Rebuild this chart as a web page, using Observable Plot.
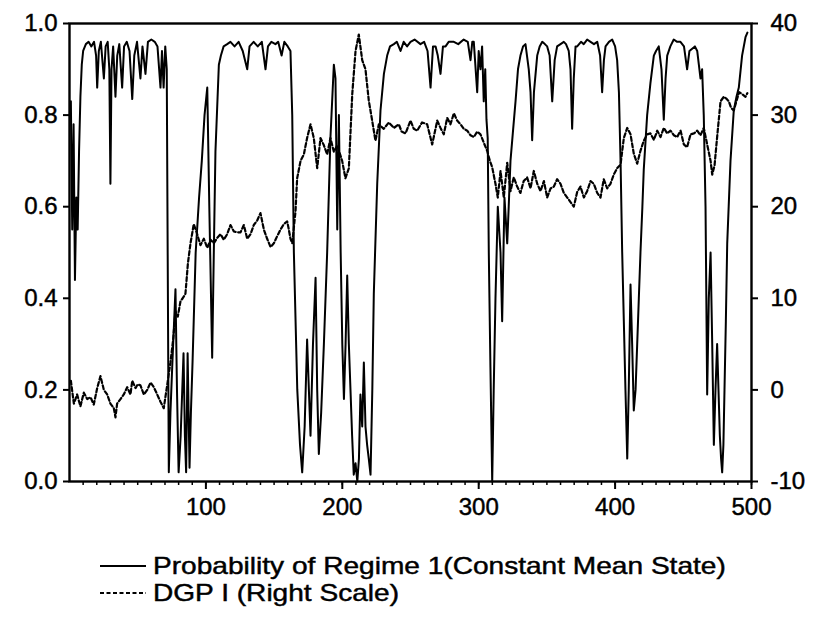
<!DOCTYPE html>
<html>
<head>
<meta charset="utf-8">
<script src="https://cdn.jsdelivr.net/npm/d3@7"></script>
<script src="https://cdn.jsdelivr.net/npm/@observablehq/plot@0.6"></script>
<style>
  body { margin: 0; background: #fff; width: 814px; height: 618px; overflow: hidden; font-family: "Liberation Sans", Arial, sans-serif; }
  #wrap { position: relative; width: 814px; height: 618px; }
  #chart svg text { stroke: #000; stroke-width: 0.45px; }
  #legend { position: absolute; left: 100px; top: 552px; font-size: 24px; color: #000; line-height: 27px; }
  .row { display: flex; align-items: center; white-space: nowrap; }
  .row svg { margin-right: 7px; }
  .row span { display: inline-block; transform: scaleX(1.17); transform-origin: left center; -webkit-text-stroke: 0.45px #000; }
</style>
</head>
<body>
<div id="wrap"><div id="chart"></div><div id="legend"></div></div>
<script>
// ---- data ----
const seriesNames = ["Probability of Regime 1(Constant Mean State)", "DGP I (Right Scale)"];
const leftTicks = [0, 0.2, 0.4, 0.6, 0.8, 1.0];
const rightTicks = [-10, 0, 10, 20, 30, 40];
const xTicks = [100, 200, 300, 400, 500];
const xDomain = [0, 500];

const probX = [1,2,3,4,5,6,7,8,9,10,12,14,16,18,19.5,20.3,21.5,23,25.2,26.5,28,29.2,30,30.8,32,33.7,35,36.5,38.6,40,42,44,46,47.5,49.5,52,53.5,55.7,57.5,60,62.5,64.5,66.7,67.8,69,70.2,71.3,72.8,74,75.3,77.7,78.8,80,81.5,83.6,84.6,85.5,86.6,88,89,90.2,92.5,95,97,99,101,102.5,104.6,105.8,107,109.5,111,113,115.6,118,121,124,127,130.3,132,135,138,141,143.7,145.5,148,151,153,155.5,157.5,160,162,163.3,164.5,167,169,170.6,172.4,174.2,175.5,176.7,178.5,180.4,181.6,182.8,184.5,186.5,188.9,191.3,193.8,195,196.3,197.5,198.8,200,201.2,202.4,203.6,204.8,206,207.2,208.4,209.7,211,212.2,213.3,214.6,215.8,217,218.2,219.4,220.7,222,223.1,225.6,228,230.5,232.9,235,237.8,240,242.7,245,247.5,250,253,257.3,260,262.5,264.7,266.5,268.4,270,272,273.8,275.7,278,281.8,285,289,292,294,295.3,296.4,298.9,300,301.3,302.5,303.7,304.8,305.7,306.6,307.4,308.6,309.9,311,312.3,314,316,317.2,318.9,320.9,322,323.3,325,327,328.8,330.6,332.5,334.3,336.7,338,339.2,340.5,342.9,344.7,346.6,348.5,350.2,352,353.9,355.7,357.5,360,362.4,364,366,367.3,368.5,369.7,371,372.2,375,377,379.5,382,384.5,386.9,389,390.5,391.8,393,395.5,397.9,400,401.5,402.8,404,405.2,406.4,407.6,408.9,410,411.3,412.5,413.7,415,416.2,417.4,418.6,420,421,423.5,425.9,428.4,430,432,434,435.7,437,438.2,440.5,443,445.5,447.9,450.5,452.8,454.5,456.5,458.5,460.2,461.4,462.6,463.8,465,466.3,467.5,468.7,470,471.2,472.4,473.6,474.8,475.8,476.8,477.7,478.5,479.4,480.2,481.2,482.2,484.6,487,489,490.7,493.1,495.6,497];
const probY = [0.83,0.55,0.78,0.44,0.62,0.55,0.72,0.84,0.91,0.94,0.955,0.96,0.95,0.96,0.93,0.86,0.94,0.96,0.88,0.95,0.96,0.9,0.65,0.9,0.95,0.84,0.93,0.955,0.86,0.95,0.96,0.94,0.835,0.93,0.96,0.88,0.95,0.89,0.96,0.965,0.96,0.95,0.86,0.94,0.86,0.95,0.9,0.02,0.15,0.25,0.42,0.2,0.02,0.1,0.28,0.1,0.02,0.28,0.03,0.15,0.26,0.5,0.62,0.7,0.8,0.86,0.6,0.27,0.5,0.72,0.91,0.93,0.95,0.955,0.96,0.95,0.96,0.94,0.9,0.95,0.96,0.95,0.96,0.9,0.95,0.96,0.955,0.96,0.93,0.96,0.95,0.94,0.8,0.5,0.2,0.08,0.02,0.12,0.31,0.2,0.1,0.3,0.445,0.2,0.06,0.15,0.3,0.5,0.75,0.91,0.88,0.55,0.8,0.5,0.3,0.18,0.3,0.45,0.3,0.2,0.1,0.015,0.04,0.0,0.05,0.19,0.12,0.26,0.12,0.08,0.05,0.015,0.2,0.41,0.65,0.81,0.89,0.93,0.95,0.955,0.96,0.94,0.96,0.95,0.96,0.965,0.955,0.96,0.94,0.86,0.95,0.95,0.93,0.89,0.95,0.95,0.96,0.96,0.955,0.965,0.96,0.92,0.96,0.96,0.85,0.94,0.9,0.95,0.83,0.9,0.79,0.75,0.5,0.25,0.0,0.2,0.4,0.6,0.5,0.35,0.62,0.52,0.6,0.7,0.76,0.83,0.9,0.93,0.95,0.955,0.9,0.85,0.745,0.85,0.93,0.95,0.96,0.955,0.95,0.93,0.83,0.92,0.95,0.955,0.96,0.955,0.94,0.9,0.77,0.88,0.95,0.95,0.96,0.955,0.965,0.96,0.955,0.96,0.93,0.85,0.92,0.95,0.96,0.965,0.95,0.92,0.85,0.7,0.5,0.35,0.2,0.05,0.2,0.43,0.3,0.155,0.2,0.3,0.4,0.5,0.6,0.68,0.8,0.87,0.93,0.94,0.95,0.9,0.79,0.88,0.93,0.95,0.965,0.96,0.96,0.95,0.9,0.94,0.945,0.95,0.94,0.91,0.88,0.9,0.8,0.6,0.19,0.4,0.5,0.3,0.08,0.2,0.3,0.2,0.1,0.05,0.02,0.08,0.2,0.35,0.52,0.7,0.81,0.84,0.86,0.93,0.97,0.98];

const dgpX = [1,3.2,5.6,8,10.5,13,15.4,17.8,20.3,22.7,25.2,27.6,30,32.5,33.7,34.9,37.4,39.8,42.3,44.7,46,48.4,50,52,54.5,57,59.4,61.8,64.3,66.7,69.1,71.6,74,76,77.7,79.4,81.4,83,85,86.8,88.7,91.1,93.6,96,98.5,101,103.4,105.8,108.3,110.7,113.1,115.6,118,120.5,122.9,125.4,127.8,130.3,132.7,135.1,137.6,140,142.5,144.9,147.4,149.8,152.3,154.7,157.1,159.6,160.8,162,163.3,165.7,166.9,169.4,171.8,174.2,176.7,179.1,181.6,184,186.5,188.9,191.3,193.8,196.3,199.9,202.3,204.8,207.3,209.7,212.1,214.6,217,219.4,221.9,224.3,226.8,230.4,234.1,237.8,241.4,243.5,246.4,250,252.4,254.9,258.5,262.2,265.9,269.6,272,274.4,276.9,279.3,281.8,284.2,286.7,289.1,291.6,294,296.4,298.9,301.3,303.7,306.2,308.2,309.9,312.3,314,316,318.4,320.9,323.3,325.7,328.2,330.6,333,335.5,338,340.4,342.9,345.3,347.8,350.2,352.7,355.1,357.5,360,362.4,364.9,367.3,369.7,372.2,374.6,377.1,379.5,382,384.4,386.9,389.3,391.7,394.2,396.6,399,401.5,404,406.4,408.9,411.3,413.7,416.2,418.6,421,423.5,425.9,428.4,430.9,433.3,435.7,438.2,440.6,443.1,445.5,448,450.4,452.8,455.3,457.8,460.2,462.6,465,467.5,470,471.2,472.9,474.8,477.3,479.7,481.5,483.4,485,487,489.5,491,493.1,495.6,497];
const dgpY = [1.0,-1.5,-0.5,-1.8,-0.3,-1.0,-0.8,-1.6,0.2,1.5,0.0,-0.5,-1.5,-2.0,-3.0,-1.5,-1.0,-0.5,0.3,-0.5,1.0,0.2,0.6,0.5,-0.5,0.0,0.8,0.3,-0.5,-1.3,-2.0,0.5,3.0,5.5,8.6,8.0,9.7,10.0,10.5,13.8,16.0,18.1,17.0,15.8,16.5,15.5,16.4,16.0,16.6,17.0,16.4,17.0,18.0,17.3,17.2,17.2,18.0,16.5,17.0,18.0,18.5,19.3,17.5,16.5,15.6,16.0,16.8,17.5,18.1,18.4,17.5,16.5,16.0,19.5,23.1,25.0,25.7,27.5,29.0,27.5,24.2,27.5,26.7,25.7,27.5,26.0,26.7,25.0,23.1,24.2,32.3,37.0,38.8,36.0,35.0,31.6,29.4,27.2,29.0,28.5,29.2,28.6,29.0,28.2,28.0,29.4,28.5,28.3,29.2,29.0,26.8,29.4,28.6,27.9,29.7,29.0,30.2,29.4,29.0,28.5,28.3,27.8,27.6,28.2,27.9,27.0,26.1,25.0,24.3,22.5,21.0,23.9,21.0,24.8,21.7,23.2,22.2,21.5,22.8,23.2,22.0,23.9,22.5,21.7,22.8,21.0,22.0,22.2,23.0,22.5,21.5,21.0,20.5,20.0,21.6,22.2,21.0,21.7,22.8,22.5,21.5,21.0,23.0,22.0,22.5,23.5,24.2,24.6,27.5,28.6,27.9,25.8,24.7,26.1,27.2,27.9,28.0,27.3,28.3,27.6,28.6,28.0,28.3,27.8,27.6,28.3,26.8,26.5,27.9,28.0,28.3,27.8,28.6,26.8,25.0,23.5,24.5,27.6,31.5,32.0,31.8,31.5,30.8,30.5,31.8,32.5,32.3,32.0,32.4];

// ---- build tables ----
const rMin = rightTicks[0], rMax = rightTicks[rightTicks.length - 1];
const toUnit = v => (v - rMin) / (rMax - rMin);
const fromUnit = u => u * (rMax - rMin) + rMin;
const probRows = probX.map((x, i) => ({x, y: probY[i]}));
const dgpRows = dgpX.map((x, i) => ({x, y: toUnit(dgpY[i])}));
const minorTicks = d3.range(xDomain[0] + 10, xDomain[1] + 1, 10);

const FS = 24;
const chart = Plot.plot({
  width: 814, height: 520,
  marginLeft: 69, marginRight: 63, marginTop: 23, marginBottom: 39,
  x: {domain: xDomain},
  y: {domain: [0, 1]},
  style: {fontFamily: "'Liberation Sans', Arial, sans-serif", fontSize: FS + "px", color: "#000", background: "#fff", overflow: "visible"},
  marks: [
    Plot.line(probRows, {x: "x", y: "y", stroke: "#000", strokeWidth: 2}),
    Plot.line(dgpRows, {x: "x", y: "y", stroke: "#000", strokeWidth: 2.2, strokeDasharray: "4,2.5"}),
    Plot.frame({stroke: "#000", strokeWidth: 2.4}),
    Plot.axisY(leftTicks, {anchor: "left", tickSize: 6, tickPadding: 6, fontSize: FS, strokeWidth: 2, tickFormat: d => d.toFixed(1), label: null}),
    Plot.axisY(rightTicks.map(toUnit), {anchor: "right", tickSize: 6, tickPadding: 13, fontSize: FS, strokeWidth: 2, tickFormat: d => String(Math.round(fromUnit(d))), label: null}),
    Plot.axisX(minorTicks, {anchor: "bottom", tickSize: 4, strokeWidth: 1.5, tickFormat: () => "", label: null}),
    Plot.axisX(xTicks, {anchor: "bottom", tickSize: 8, tickPadding: 8, fontSize: FS, strokeWidth: 2, label: null})
  ]
});
document.getElementById("chart").appendChild(chart);

// ---- legend ----
const legend = document.getElementById("legend");
const dashes = [null, "4,2.5"];
seriesNames.forEach((name, i) => {
  const row = document.createElement("div");
  row.className = "row";
  row.innerHTML = `<svg width="46" height="12"><line x1="0" y1="6" x2="46" y2="6" stroke="#000" stroke-width="2" ${dashes[i] ? `stroke-dasharray="${dashes[i]}"` : ""}/></svg><span>${name}</span>`;
  legend.appendChild(row);
});
</script>
</body>
</html>
